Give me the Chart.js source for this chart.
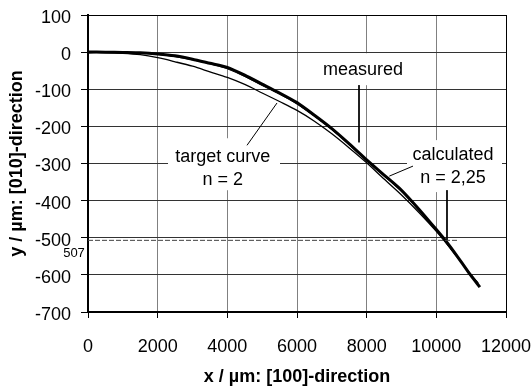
<!doctype html>
<html>
<head>
<meta charset="utf-8">
<title>profile</title>
<script src="https://cdn.jsdelivr.net/npm/chart.js@4.4.1/dist/chart.umd.min.js"></script>
<style>
  body { margin: 0; background: #fff; }
</style>
</head>
<body>
<canvas id="myChart" width="531" height="388"></canvas>
<script>
// values (x and y in µm)
var measuredX = [0, 500, 1000, 1500, 2000, 2500, 3000, 3500, 4000, 4500, 5000, 5500, 6000, 6500, 7000, 7500, 8000, 8500, 9000, 9500, 10000, 10300, 10600, 10900, 11100, 11250];
var measuredY = [0, 0, -1, -2, -5, -10, -19, -30, -41, -62, -86, -110, -136, -170, -206, -247, -290, -331, -372, -423, -478, -512, -550, -590, -615, -633];

var calculatedX = [0, 1000, 2000, 3000, 4000, 5000, 6000, 7000, 8000, 9000, 10000, 10500, 11000, 11200];
var calculatedY = [0, -1, -6, -21, -45, -90, -140, -209, -293, -376, -481, -540, -602, -625];

var targetX = [0, 500, 1000, 1500, 2000, 2500, 3000, 3500, 4000, 4500, 5000, 5500, 6000, 6500, 7000, 7500, 8000, 8500, 9000, 9500, 10000, 10500, 11000, 11200];
var targetY = [0, -1, -3, -7, -15, -26, -38, -53, -68, -87, -110, -133, -157, -186, -220, -258, -298, -342, -385, -432, -483, -540, -600, -622];

var depthLevel = -507;
var depthLineEnd = 10620;

var xTicks = [0, 2000, 4000, 6000, 8000, 10000, 12000];
var yTicks = [100, 0, -100, -200, -300, -400, -500, -600, -700];

// leader lines: [x1, y1, x2, y2]
var leaderTarget = [4565, -251, 5426, -137];
var leaderMeasured = [7780, -89, 7780, -243];
var leaderCalc = [8650, -334, 9330, -307];
var leaderCalc2 = [10306, -372, 10306, -507];

// label boxes: text lines, centre x, centre y of each line, box [x1, y1, x2, y2]
var labelTexts = [["target curve", "n = 2"], ["measured"], ["calculated", "n = 2,25"]];
var labelX = [3870, 7895, 10478];
var labelY = [[-283, -345], [-48], [-277, -340]];
var labelBox = [[2297, -232, 5512, -372], [6700, -3, 9100, -89], [9158, -237, 11885, -377]];

function pts(xs, ys) {
    var out = [];
    for (var i = 0; i < xs.length; i++) out.push({x: xs[i], y: ys[i]});
    return out;
}
function seg(a) {
    return [{x: a[0], y: a[1]}, {x: a[2], y: a[3]}];
}

var FONT = '"Liberation Sans", Arial, sans-serif';

var labelsPlugin = {
    id: 'labels',
    beforeDatasetsDraw: function(chart) {
        var c = chart.ctx, xs = chart.scales.x, ys = chart.scales.y;
        c.save();
        c.fillStyle = '#fff';
        labelBox.forEach(function(b) {
            var x1 = xs.getPixelForValue(b[0]), y1 = ys.getPixelForValue(b[1]);
            var x2 = xs.getPixelForValue(b[2]), y2 = ys.getPixelForValue(b[3]);
            c.fillRect(x1, y1, x2 - x1, y2 - y1);
        });
        c.fillStyle = '#000';
        c.font = '18px ' + FONT;
        c.textAlign = 'center';
        c.textBaseline = 'middle';
        labelTexts.forEach(function(lines, i) {
            lines.forEach(function(t, j) {
                c.fillText(t, xs.getPixelForValue(labelX[i]), ys.getPixelForValue(labelY[i][j]));
            });
        });
        c.restore();
    },
    afterDraw: function(chart) {
        var c = chart.ctx, ys = chart.scales.y;
        c.save();
        c.fillStyle = '#000';
        c.font = '13px ' + FONT;
        c.textAlign = 'center';
        c.textBaseline = 'middle';
        c.fillText(String(-depthLevel), chart.chartArea.left - 14, ys.getPixelForValue(depthLevel) + 13);
        c.restore();
    }
};

function thin(data, w) {
    return {data: data, borderColor: '#000', borderWidth: w, pointRadius: 0, fill: false, tension: 0.3};
}

var datasets = [
    {data: [{x: 0, y: depthLevel}, {x: depthLineEnd, y: depthLevel}], borderColor: '#444', borderWidth: 1, borderDash: [5, 2], pointRadius: 0},
    thin(pts(targetX, targetY), 1.3),
    thin(pts(calculatedX, calculatedY), 1),
    Object.assign(thin(pts(measuredX, measuredY), 3), {tension: 0.2}),
    {data: seg(leaderTarget), borderColor: '#000', borderWidth: 1, pointRadius: 0},
    {data: seg(leaderMeasured), borderColor: '#000', borderWidth: 1, pointRadius: 0},
    {data: seg(leaderCalc), borderColor: '#000', borderWidth: 1, pointRadius: 0},
    {data: seg(leaderCalc2), borderColor: '#000', borderWidth: 1, pointRadius: 0}
];

var ctx = document.getElementById('myChart').getContext('2d');
var myChart = new Chart(ctx, {
    type: 'line',
    data: {datasets: datasets},
    plugins: [labelsPlugin],
    options: {
        responsive: false,
        animation: false,
        layout: {padding: {top: 15, right: 25, left: 0, bottom: 0}},
        plugins: {legend: {display: false}, tooltip: {enabled: false}},
        scales: {
            x: {
                type: 'linear', min: 0, max: 12000,
                afterBuildTicks: function(s) { s.ticks = xTicks.map(function(v) { return {value: v}; }); },
                afterFit: function(s) { s.height = 76; s.paddingLeft = 0; s.paddingRight = 0; },
                ticks: {color: '#000', font: {family: FONT, size: 18}, padding: 18, maxRotation: 0,
                        callback: function(v) { return String(v); }},
                grid: {
                    color: function(c) { return c.tick && c.tick.value === 12000 ? '#000' : '#808080'; },
                    lineWidth: 1, tickLength: 6, tickColor: '#000'
                },
                border: {color: '#000', width: 2},
                title: {display: true, text: 'x / µm: [100]-direction', color: '#000',
                        font: {family: FONT, size: 18, weight: 'bold'}, padding: {top: 0, bottom: 0}}
            },
            y: {
                type: 'linear', min: -700, max: 100,
                afterBuildTicks: function(s) { s.ticks = yTicks.map(function(v) { return {value: v}; }); },
                afterFit: function(s) { s.width = 88; s.paddingTop = 0; s.paddingBottom = 0; },
                ticks: {color: '#000', font: {family: FONT, size: 18}, padding: 10, labelOffset: 3,
                        callback: function(v) { return String(v); }},
                grid: {
                    color: function(c) { return c.tick && c.tick.value === 100 ? '#000' : '#333'; },
                    lineWidth: 1, tickLength: 7, tickColor: '#000'
                },
                border: {color: '#000', width: 2},
                title: {display: true, text: 'y / µm: [010]-direction', color: '#000',
                        font: {family: FONT, size: 18, weight: 'bold'}, padding: {top: 6, bottom: 0}}
            }
        }
    }
});
</script>
</body>
</html>
